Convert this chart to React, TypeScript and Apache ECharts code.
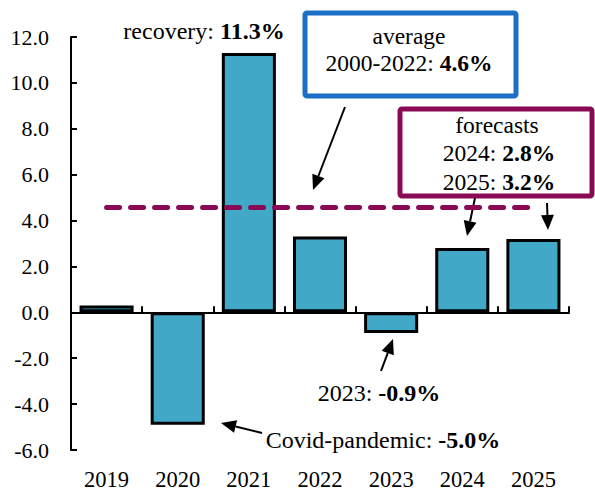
import React, { useEffect, useRef } from "react";
import * as echarts from "echarts";

const categories = ["2019", "2020", "2021", "2022", "2023", "2024", "2025"];
const growth = [0.3, -4.9, 11.3, 3.3, -0.9, 2.8, 3.2];
const averageValue = 4.6;
const yTicks = { min: -6, max: 12, interval: 2 };

const FONT = "Liberation Serif";
const PURPLE = "#8a0a55";
const BLUE = "#1a70c6";
const BAR = "#41a8c7";

function arrow(x1: number, y1: number, x2: number, y2: number) {
  const dx = x2 - x1;
  const dy = y2 - y1;
  const len = Math.sqrt(dx * dx + dy * dy);
  const ux = dx / len;
  const uy = dy / len;
  const hl = 15;
  const hw = 6.5;
  const bx = x2 - ux * hl;
  const by = y2 - uy * hl;
  return [
    {
      type: "line",
      shape: { x1, y1, x2: bx, y2: by },
      style: { stroke: "#000", lineWidth: 2 },
    },
    {
      type: "polygon",
      shape: {
        points: [
          [x2, y2],
          [bx - uy * hw, by + ux * hw],
          [bx + uy * hw, by - ux * hw],
        ],
      },
      style: { fill: "#000" },
    },
  ];
}

function rt(x: number, y: number, text: string, size: number) {
  return {
    type: "text",
    x,
    y,
    style: {
      text,
      align: "center",
      verticalAlign: "middle",
      fontFamily: FONT,
      fontSize: size,
      fill: "#000",
      rich: {
        n: { fontFamily: FONT, fontSize: size, fill: "#000" },
        b: { fontFamily: FONT, fontSize: size, fontWeight: "bold", fill: "#000" },
      },
    },
  };
}

export default function App() {
  const ref = useRef<HTMLDivElement>(null);
  useEffect(() => {
    if (!ref.current) return;
    const chart = echarts.init(ref.current, undefined, { renderer: "svg" });
    chart.setOption({
      animation: false,
      backgroundColor: "#fff",
      textStyle: { fontFamily: FONT },
      grid: { left: 71, right: 26, top: 37, bottom: 40 },
      xAxis: [
        {
          type: "category",
          data: categories,
          position: "bottom",
          axisLine: { show: false, onZero: false },
          axisTick: { show: false },
          axisLabel: { fontFamily: FONT, fontSize: 22.5, color: "#000", margin: 18 },
        },
        {
          type: "category",
          data: categories,
          position: "bottom",
          axisLine: { show: true, onZero: true, lineStyle: { color: "#000", width: 2 } },
          axisTick: { show: true, inside: true, length: 6, lineStyle: { color: "#000", width: 2 } },
          axisLabel: { show: false },
        },
      ],
      yAxis: {
        type: "value",
        min: yTicks.min,
        max: yTicks.max,
        interval: yTicks.interval,
        splitLine: { show: false },
        axisLine: { show: true, lineStyle: { color: "#000", width: 2 } },
        axisTick: { show: true, inside: true, length: 6, lineStyle: { color: "#000", width: 2 } },
        axisLabel: {
          fontFamily: FONT,
          fontSize: 22,
          color: "#000",
          margin: 22,
          formatter: (v: number) => v.toFixed(1),
        },
      },
      series: [
        {
          type: "bar",
          data: growth,
          xAxisIndex: 0,
          barCategoryGap: "24%",
          itemStyle: { color: BAR, borderColor: "#000", borderWidth: 3 },
          markLine: {
            silent: true,
            symbol: "none",
            label: { show: false },
            lineStyle: { color: PURPLE, width: 5, type: [13, 11], cap: "round" },
            data: [
              [
                { coord: [categories[0], averageValue] },
                { coord: [categories[categories.length - 1], averageValue] },
              ],
            ],
          },
        },
      ],
      graphic: [
        {
          type: "rect",
          shape: { x: 305, y: 13, width: 211, height: 83, r: 2 },
          style: { fill: "#fff", stroke: BLUE, lineWidth: 5 },
        },
        {
          type: "rect",
          shape: { x: 400, y: 109, width: 192, height: 87, r: 2 },
          style: { fill: "#fff", stroke: PURPLE, lineWidth: 5 },
        },
        rt(409, 36, "{n|average}", 23.5),
        rt(409, 63, "{n|2000-2022: }{b|4.6%}", 23.5),
        rt(497, 125, "{n|forecasts}", 23.5),
        rt(499, 153, "{n|2024: }{b|2.8%}", 23.5),
        rt(499, 182, "{n|2025: }{b|3.2%}", 23.5),
        rt(204, 31, "{n|recovery: }{b|11.3%}", 24),
        rt(379, 393, "{n|2023: }{b|-0.9%}", 24),
        rt(383, 440, "{n|Covid-pandemic: }{b|-5.0%}", 24),
        ...arrow(345, 107, 313, 190),
        ...arrow(475, 198, 467, 236),
        ...arrow(547, 203, 548, 230),
        ...arrow(381, 371, 393, 339),
        ...arrow(262, 433, 221, 423),
      ],
    });
    return () => chart.dispose();
  }, []);
  return <div ref={ref} style={{ width: 595, height: 491, position: "absolute", left: 0, top: 0 }} />;
}
